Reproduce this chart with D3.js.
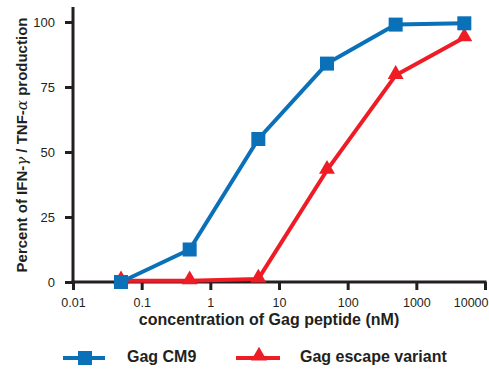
<!DOCTYPE html>
<html>
<head>
<meta charset="utf-8">
<script src="https://cdn.jsdelivr.net/npm/d3@7"></script>
<style>
  body { margin: 0; background: #fff; }
  svg text { font-family: "Liberation Sans", Arial, sans-serif; fill: #231f20; }
</style>
</head>
<body>
<div id="chart"></div>
<script>
// concentrations (nM)
var conc = [0.05, 0.5, 5, 50, 500, 5000];
var gagCM9 = [0, 12.5, 55, 84, 99, 99.5];
var gagEscape = [0.5, 0.5, 1.2, 43, 79.5, 94];
var xTicks = [0.01, 0.1, 1, 10, 100, 1000, 10000];
var xTickLabels = ["0.01", "0.1", "1", "10", "100", "1000", "10000"];
var yTicks = [0, 25, 50, 75, 100];

var W = 489, H = 369;
var ink = "#231f20";
var blue = "#0a70b8", red = "#ee1c25";

var svg = d3.select("#chart").append("svg")
    .attr("width", W).attr("height", H);

var x = d3.scaleLog().domain([0.01, 10000]).range([73, 485]);
var y = d3.scaleLinear().domain([0, 100]).range([282, 22]);

// y axis
var yAxis = svg.append("g")
    .attr("transform", "translate(73,0)")
    .call(d3.axisLeft(y).tickValues(yTicks).tickSize(8).tickSizeOuter(0));
yAxis.select(".domain").remove();
yAxis.selectAll(".tick line").attr("stroke", ink).attr("stroke-width", 3);
yAxis.selectAll(".tick text").attr("x", -18).attr("font-size", 13).style("fill", ink);
svg.append("line")
    .attr("x1", 73).attr("x2", 73).attr("y1", 7).attr("y2", 283.5)
    .attr("stroke", ink).attr("stroke-width", 3);

// x axis
var xAxis = svg.append("g")
    .attr("transform", "translate(0,282)")
    .call(d3.axisBottom(x).tickValues(xTicks)
        .tickFormat(function(d, i) { return xTickLabels[i]; })
        .tickSize(8).tickSizeOuter(0));
xAxis.select(".domain").remove();
xAxis.selectAll(".tick line").attr("stroke", ink).attr("stroke-width", 3);
xAxis.selectAll(".tick text").attr("y", 16).attr("font-size", 12.5).style("fill", ink);
// last label sits flush with the right edge
xAxis.selectAll(".tick text").filter(function(d) { return d === 10000; })
    .attr("text-anchor", "end").attr("x", 3);
svg.append("line")
    .attr("x1", 71.5).attr("x2", 486.5).attr("y1", 282).attr("y2", 282)
    .attr("stroke", ink).attr("stroke-width", 3);

// axis titles
svg.append("text")
    .attr("x", 269).attr("y", 325)
    .attr("text-anchor", "middle")
    .attr("font-size", 16).attr("font-weight", "bold")
    .text("concentration of Gag peptide (nM)");

var yl = svg.append("text")
    .attr("transform", "translate(27,145) rotate(-90)")
    .attr("text-anchor", "middle")
    .attr("font-size", 15).attr("font-weight", "bold");
yl.append("tspan").text("Percent of IFN-");
yl.append("tspan").attr("font-family", "DejaVu Serif").attr("font-style", "italic")
    .attr("font-weight", "normal").text("γ");
yl.append("tspan").text(" / TNF-");
yl.append("tspan").attr("font-family", "DejaVu Serif").attr("font-style", "italic")
    .attr("font-weight", "normal").text("α");
yl.append("tspan").text(" production");

// series
var line = d3.line()
    .x(function(d) { return x(d[0]); })
    .y(function(d) { return y(d[1]); });

var blueData = conc.map(function(c, i) { return [c, gagCM9[i]]; });
var redData = conc.map(function(c, i) { return [c, gagEscape[i]]; });

svg.append("path").datum(redData)
    .attr("d", line).attr("fill", "none")
    .attr("stroke", red).attr("stroke-width", 4).attr("stroke-linejoin", "round");
var tri = d3.symbol().type(d3.symbolTriangle).size(110);
svg.selectAll(".tri").data(redData).enter().append("path")
    .attr("class", "tri")
    .attr("transform", function(d) { return "translate(" + x(d[0]) + "," + (y(d[1]) - 1) + ")"; })
    .attr("d", tri).attr("fill", red);

svg.append("path").datum(blueData)
    .attr("d", line).attr("fill", "none")
    .attr("stroke", blue).attr("stroke-width", 4).attr("stroke-linejoin", "round");
svg.selectAll(".sq").data(blueData).enter().append("rect")
    .attr("class", "sq")
    .attr("x", function(d) { return x(d[0]) - 7; })
    .attr("y", function(d) { return y(d[1]) - 7; })
    .attr("width", 14).attr("height", 14)
    .attr("fill", blue);

// legend
var leg = svg.append("g");
leg.append("line").attr("x1", 63).attr("x2", 105).attr("y1", 358).attr("y2", 358)
    .attr("stroke", blue).attr("stroke-width", 4);
leg.append("rect").attr("x", 78).attr("y", 351).attr("width", 14).attr("height", 14)
    .attr("fill", blue);
leg.append("text").attr("x", 127).attr("y", 362)
    .attr("font-size", 16).attr("font-weight", "bold").text("Gag CM9");

leg.append("line").attr("x1", 236).attr("x2", 280).attr("y1", 358).attr("y2", 358)
    .attr("stroke", red).attr("stroke-width", 4);
leg.append("path").attr("transform", "translate(259,356)")
    .attr("d", tri).attr("fill", red);
leg.append("text").attr("x", 300).attr("y", 362)
    .attr("font-size", 16).attr("font-weight", "bold").text("Gag escape variant");
</script>
</body>
</html>
